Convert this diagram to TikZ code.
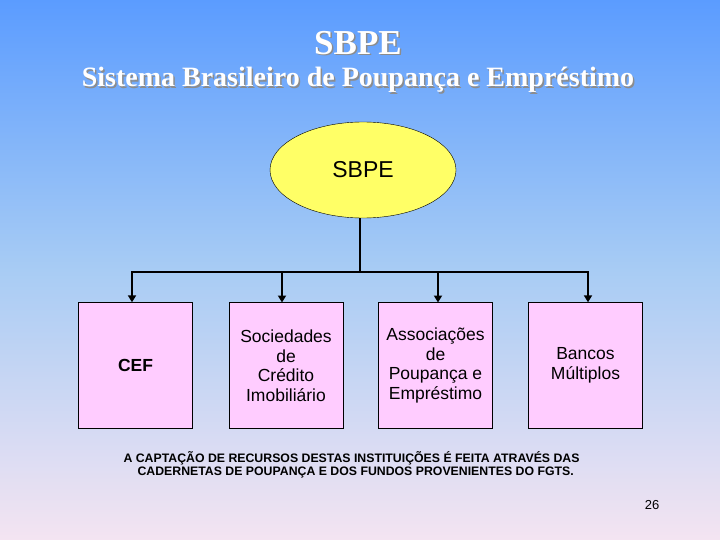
\documentclass[tikz,border=0pt]{standalone}
\usepackage{fontspec}
\setmainfont{Liberation Sans}
\newfontfamily\serifb{Liberation Serif}
\usetikzlibrary{shapes.geometric,arrows.meta}
\definecolor{topblue}{HTML}{5B9CFF}
\definecolor{midblue}{HTML}{A8CCF4}
\definecolor{botpink}{HTML}{F4E4F2}
\definecolor{boxpink}{HTML}{FFCCFF}
\definecolor{ellyellow}{HTML}{FFFF66}
\tikzset{
  unitbox/.style={draw=black, fill=boxpink, minimum width=114pt, minimum height=126pt, inner sep=2pt, align=center, font=\fontsize{17.5}{19.5}\selectfont},
  conn/.style={line width=2.2pt},
  arr/.style={line width=2.2pt, -{Triangle[length=7pt,width=8pt]}},
  ttl/.style={text=white},
  shd/.style={text=black!45}
}
\begin{document}
\begin{tikzpicture}[x=1pt,y=-1pt]
\useasboundingbox (0,0) rectangle (720,540);
\shade[top color=topblue, bottom color=botpink, middle color=midblue] (0,0) rectangle (720,540);
% titles
\node[shd, font=\serifb\bfseries\fontsize{35}{38}\selectfont] at (359.5,44.5) {SBPE};
\node[ttl, font=\serifb\bfseries\fontsize{35}{38}\selectfont] (t1) at (358,43) {SBPE};
\node[shd, font=\serifb\bfseries\fontsize{28}{32}\selectfont] at (359.5,81.5) {Sistema Brasileiro de Poupança e Empréstimo};
\node[ttl, font=\serifb\bfseries\fontsize{28}{32}\selectfont] (t2) at (358,80) {Sistema Brasileiro de Poupança e Empréstimo};
% ellipse
\node[ellipse, draw=black, fill=ellyellow, minimum width=186pt, minimum height=96pt, font=\fontsize{23}{26}\selectfont] (root) at (363,170) {SBPE};
% boxes
\node[unitbox, font=\bfseries\fontsize{17.5}{19.5}\selectfont] (b1) at (135.5,365.5) {CEF};
\node[unitbox] (b2) at (286,365.5) {Sociedades\\de\\Crédito\\Imobiliário};
\node[unitbox] (b3) at (435.5,365.5) {Associações\\de\\Poupança e\\Empréstimo};
\node[unitbox] (b4) at (585.5,365.5) {Bancos\\Múltiplos};
% connectors
\coordinate (j) at (360,272);
\coordinate (l) at (132,272);
\coordinate (r) at (588,272);
\draw[conn] (root.south -| j) -- (j);
\draw[conn, line cap=rect] (l) -- (r);
\draw[arr] (l) -- (l |- b1.north);
\draw[arr] (282,272) -- (282,302.5);
\draw[arr] (438,272) -- (438,302.5);
\draw[arr] (r) -- (r |- b4.north);
% note
\node[align=left, font=\bfseries\fontsize{12.3}{13}\selectfont, anchor=north west] (note) at (120,448) {A CAPTAÇÃO DE RECURSOS DESTAS INSTITUIÇÕES É FEITA ATRAVÉS DAS\\\hspace*{14pt}CADERNETAS DE POUPANÇA E DOS FUNDOS PROVENIENTES DO FGTS.};
\node[font=\fontsize{13}{15}\selectfont] (pg) at (652,505) {26};
\end{tikzpicture}
\end{document}
